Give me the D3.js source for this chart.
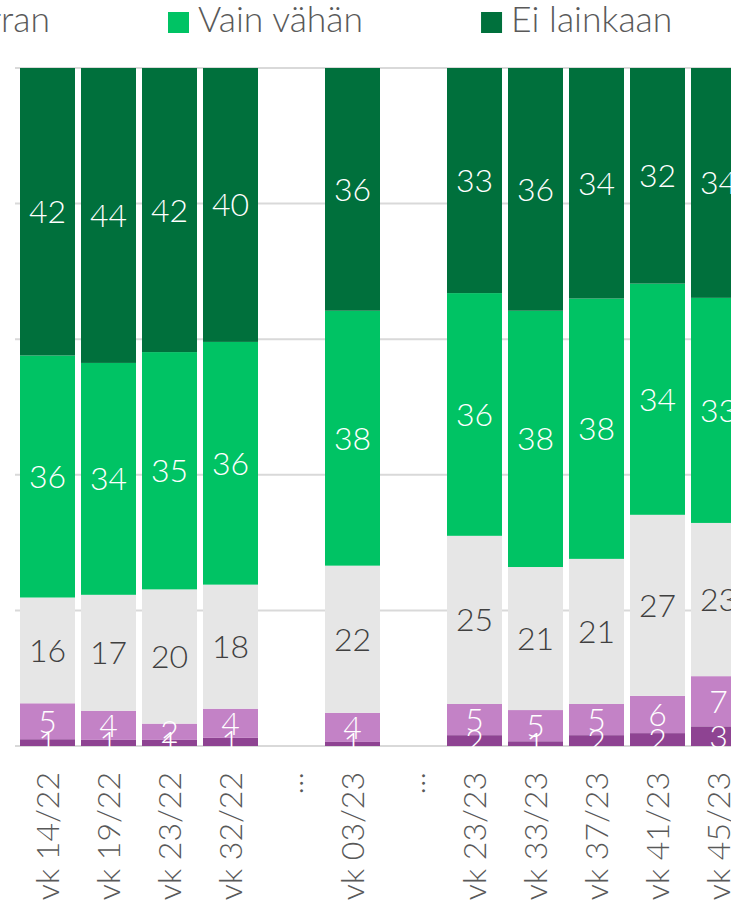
<!DOCTYPE html>
<html>
<head>
<meta charset="utf-8">
<script src="https://cdn.jsdelivr.net/npm/d3@7"></script>
<style>
  html, body { margin: 0; padding: 0; background: #fff; overflow: hidden; }
  svg { display: block; font-family: Lato, "Open Sans", sans-serif; font-weight: 300; }
</style>
</head>
<body>
<svg id="chart" width="731" height="903"></svg>
<script>
// ---- data (percent; labels are rounded) ----
const categories = ["vk 14/22", "vk 19/22", "vk 23/22", "vk 32/22", "...", "vk 03/23", "...", "vk 23/23", "vk 33/23", "vk 37/23", "vk 41/23", "vk 45/23"];
const seriesNames = ["Erittäin paljon", "Melko paljon", "Jonkin verran", "Vain vähän", "Ei lainkaan"];
const erittainPaljon = [1.0, 0.9, 0.9, 1.2, null, 0.6, null, 1.6, 0.7, 1.6, 1.9, 2.9];
const melkoPaljon    = [5.3, 4.3, 2.4, 4.3, null, 4.3, null, 4.6, 4.6, 4.6, 5.5, 7.4];
const jonkinVerran   = [15.6, 17.1, 19.8, 18.3, null, 21.7, null, 24.8, 21.1, 21.4, 26.7, 22.6];
const vainVahan      = [35.7, 34.2, 35.0, 35.8, null, 37.6, null, 35.8, 37.8, 38.4, 34.1, 33.2];
const eiLainkaan     = [42.4, 43.5, 41.9, 40.4, null, 35.8, null, 33.2, 35.8, 34.0, 31.8, 33.9];
const yTicks = [0, 20, 40, 60, 80, 100];

const seriesValues = [erittainPaljon, melkoPaljon, jonkinVerran, vainVahan, eiLainkaan];
const colors = ["#8E4392", "#C382C6", "#E6E6E6", "#00C364", "#00703C"];
const labelColors = ["#ffffff", "#ffffff", "#404040", "#ffffff", "#ffffff"];

const rows = categories.map((c, i) => {
  const r = { key: i, cat: c };
  seriesNames.forEach((s, j) => r[s] = seriesValues[j][i] == null ? 0 : seriesValues[j][i]);
  r.empty = seriesValues[0][i] == null;
  return r;
});

const svg = d3.select("#chart");

const x = d3.scaleBand()
  .domain(rows.map(r => r.key))
  .range([17, 749])
  .paddingInner(6 / 61)
  .paddingOuter(3 / 61);

const y = d3.scaleLinear().domain([0, 100]).range([746, 68]);

// gridlines
svg.append("g").selectAll("line")
  .data(yTicks)
  .join("line")
  .attr("x1", 15).attr("x2", 731)
  .attr("y1", d => y(d)).attr("y2", d => y(d))
  .attr("stroke", "#D9D9D9")
  .attr("stroke-width", 2);

const stack = d3.stack().keys(seriesNames);
const stacked = stack(rows.filter(r => !r.empty));

const layers = svg.append("g").selectAll("g")
  .data(stacked)
  .join("g")
  .attr("fill", (d, i) => colors[i]);

layers.selectAll("rect")
  .data(d => d)
  .join("rect")
  .attr("x", d => x(d.data.key))
  .attr("width", x.bandwidth())
  .attr("y", d => y(d[1]))
  .attr("height", d => y(d[0]) - y(d[1]));

// value labels
const labelG = svg.append("g");
stacked.forEach((layer, i) => {
  labelG.append("g").selectAll("text")
    .data(layer)
    .join("text")
    .attr("x", d => x(d.data.key) + x.bandwidth() / 2)
    .attr("y", d => (y(d[0]) + y(d[1])) / 2)
    .attr("dy", "0.36em")
    .attr("text-anchor", "middle")
    .attr("font-size", 32)
    .attr("fill", labelColors[i])
    .text(d => Math.round(d.data[seriesNames[i]]));
});

// x axis labels
const xAxis = d3.axisBottom(x).tickSize(0).tickFormat(k => categories[k]);
const ax = svg.append("g").attr("transform", "translate(0,746)").call(xAxis);
ax.select(".domain").remove();
ax.selectAll("text")
  .attr("font-family", "Lato, 'Open Sans', sans-serif")
  .attr("font-weight", 300)
  .attr("font-size", 32)
  .attr("fill", "#595959")
  .attr("text-anchor", "end")
  .attr("x", 0).attr("y", 0)
  .attr("dy", "0.36em")
  .attr("transform", "translate(0,26) rotate(-90)");

// legend
const legend = svg.append("g");
const items = legend.selectAll("g").data(seriesNames).join("g");
items.append("rect").attr("width", 21).attr("height", 21).attr("y", 12)
  .attr("fill", (d, i) => colors[i]);
items.append("text").attr("x", 30).attr("y", 32)
  .attr("font-size", 35.5).attr("fill", "#595959").text(d => d);
// layout: anchor "Vain vähän" square at x=168, items spaced by text width + gap
const widths = [];
items.each(function () { widths.push(30 + d3.select(this).select("text").node().getComputedTextLength()); });
const gap = 118;
const anchorIdx = 3;
const pos = new Array(seriesNames.length);
pos[anchorIdx] = 168;
for (let i = anchorIdx + 1; i < seriesNames.length; i++) pos[i] = pos[i - 1] + widths[i - 1] + gap;
for (let i = anchorIdx - 1; i >= 0; i--) pos[i] = pos[i + 1] - gap - widths[i];
items.attr("transform", (d, i) => `translate(${pos[i]},0)`);
</script>
</body>
</html>
